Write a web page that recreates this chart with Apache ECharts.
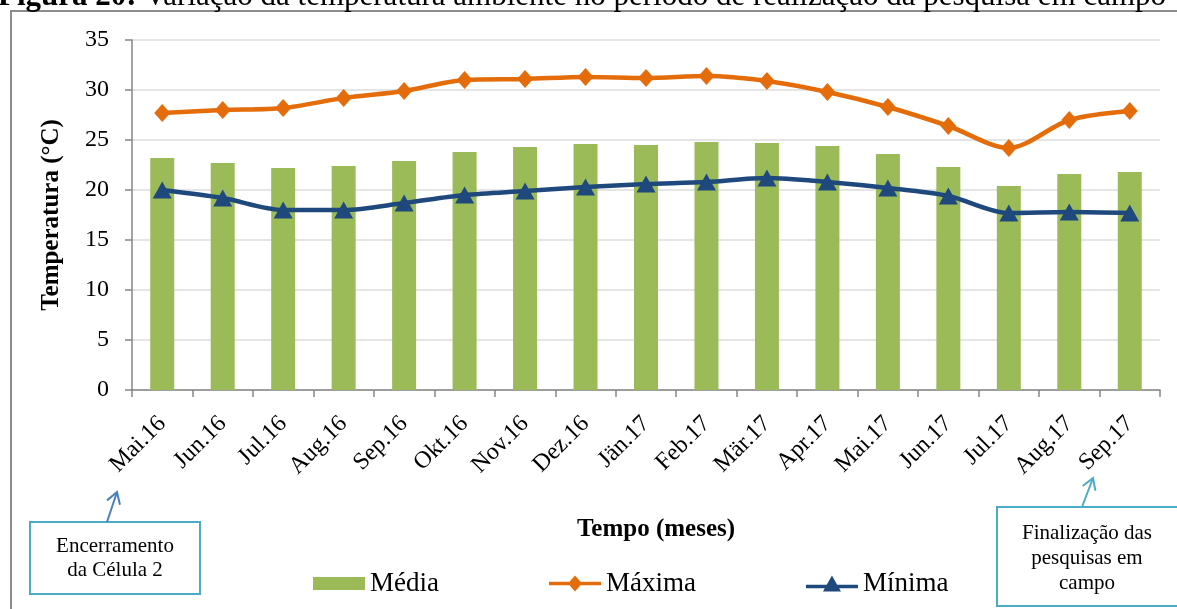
<!DOCTYPE html>
<html>
<head>
<meta charset="utf-8">
<script src="https://cdn.jsdelivr.net/npm/echarts@6/dist/echarts.min.js"></script>
<style>
  html, body { margin: 0; padding: 0; background: #fff; }
  #chart { width: 1177px; height: 609px; }
</style>
</head>
<body>
<div id="chart"></div>
<script>
var meses = ['Mai.16', 'Jun.16', 'Jul.16', 'Aug.16', 'Sep.16', 'Okt.16', 'Nov.16', 'Dez.16', 'Jän.17',
  'Feb.17', 'Mär.17', 'Apr.17', 'Mai.17', 'Jun.17', 'Jul.17', 'Aug.17', 'Sep.17'];
var media = [23.2, 22.7, 22.2, 22.4, 22.9, 23.8, 24.3, 24.6, 24.5, 24.8, 24.7, 24.4, 23.6, 22.3, 20.4, 21.6, 21.8];
var maxima = [27.7, 28.0, 28.2, 29.2, 29.9, 31.0, 31.1, 31.3, 31.2, 31.4, 30.9, 29.8, 28.3, 26.4, 24.2, 27.0, 27.9];
var minima = [20.0, 19.2, 18.0, 18.0, 18.7, 19.5, 19.9, 20.3, 20.6, 20.8, 21.2, 20.8, 20.2, 19.4, 17.7, 17.8, 17.7];
var yTicks = [0, 5, 10, 15, 20, 25, 30, 35];

var serif = '"Liberation Serif", "Times New Roman", serif';

// seta aberta: haste + duas pontas
function seta(x1, y1, x2, y2, cor) {
  var dx = x1 - x2, dy = y1 - y2;
  var len = Math.sqrt(dx * dx + dy * dy);
  var ux = dx / len, uy = dy / len;
  var a = 0.55, h = 13;
  function rot(s) {
    return [x2 + h * (ux * Math.cos(s * a) - uy * Math.sin(s * a)),
            y2 + h * (ux * Math.sin(s * a) + uy * Math.cos(s * a))];
  }
  return [{
    type: 'polyline', silent: true,
    shape: { points: [[x1, y1], [x2, y2]] },
    style: { stroke: cor, lineWidth: 2 }
  }, {
    type: 'polyline', silent: true,
    shape: { points: [rot(1), [x2, y2], rot(-1)] },
    style: { stroke: cor, lineWidth: 2, fill: null }
  }];
}

// ícones da legenda (linha grossa + marcador)
var iconBarra = 'path://M0,1.5 L52,1.5 L52,14.5 L0,14.5 Z';
var iconMax = 'path://M0,6.3 L52,6.3 L52,9.7 L0,9.7 Z M26,0 L33,8 L26,16 L19,8 Z';
var iconMin = 'path://M0,9.3 L52,9.3 L52,12.7 L0,12.7 Z M26,0 L35,16 L17,16 Z';

var myChart = echarts.init(document.getElementById('chart'));

var option = {
  backgroundColor: '#fff',
  animation: false,
  textStyle: { fontFamily: serif },
  grid: { left: 132, right: 17, top: 40, bottom: 219 },
  legend: {
    left: 308,
    top: 565,
    itemWidth: 52,
    itemHeight: 16,
    itemGap: 110,
    textStyle: { fontFamily: serif, fontSize: 27, color: '#000' },
    data: [
      { name: 'Média', icon: iconBarra },
      { name: 'Máxima', icon: iconMax },
      { name: 'Mínima', icon: iconMin }
    ]
  },
  xAxis: {
    type: 'category',
    data: meses,
    boundaryGap: true,
    axisLine: { lineStyle: { color: '#868686', width: 1.5 } },
    axisTick: { show: true, length: 7, lineStyle: { color: '#868686', width: 1.5 } },
    axisLabel: {
      rotate: 45, margin: 30, interval: 0,
      fontFamily: serif, fontSize: 24, color: '#000'
    }
  },
  yAxis: {
    type: 'value',
    min: yTicks[0],
    max: yTicks[yTicks.length - 1],
    interval: 5,
    name: 'Temperatura (°C)',
    nameLocation: 'middle',
    nameGap: 68,
    nameTextStyle: { fontFamily: serif, fontSize: 25, fontWeight: 'bold', color: '#000' },
    axisLine: { show: true, lineStyle: { color: '#868686', width: 1.5 } },
    axisTick: { show: true, length: 7, lineStyle: { color: '#868686', width: 1.5 } },
    axisLabel: { margin: 23, fontFamily: serif, fontSize: 24, color: '#000' },
    splitLine: { lineStyle: { color: '#dcdcdc', width: 1.5 } }
  },
  series: [{
    name: 'Média',
    type: 'bar',
    data: media,
    barWidth: 24,
    itemStyle: { color: '#9BBB59' }
  }, {
    name: 'Máxima',
    type: 'line',
    data: maxima,
    smooth: 0.3,
    symbol: 'diamond',
    symbolSize: [16, 18],
    lineStyle: { color: '#E46C0A', width: 4.5 },
    itemStyle: { color: '#E46C0A' }
  }, {
    name: 'Mínima',
    type: 'line',
    data: minima,
    smooth: 0.3,
    symbol: 'triangle',
    symbolSize: [19, 17],
    lineStyle: { color: '#1F497D', width: 4.5 },
    itemStyle: { color: '#1F497D' }
  }],
  graphic: [
    // moldura do gráfico
    {
      type: 'rect', silent: true, z: -10,
      shape: { x: 11, y: 11, width: 1200, height: 700 },
      style: { fill: null, stroke: '#8c8c8c', lineWidth: 2 }
    },
    // legenda da figura (cortada no topo da imagem)
    {
      type: 'text', silent: true,
      x: -2, y: 12,
      style: {
        text: '{b|Figura 20:} Variação da temperatura ambiente no período de realização da pesquisa em campo',
        verticalAlign: 'bottom',
        font: '31px ' + serif,
        fill: '#000',
        rich: { b: { fontWeight: 'bold', fontSize: 31, fontFamily: serif } }
      }
    },
    // título do eixo x
    {
      type: 'text', silent: true,
      x: 656, y: 530,
      style: {
        text: 'Tempo (meses)', align: 'center', verticalAlign: 'middle',
        font: 'bold 25px ' + serif, fill: '#000'
      }
    },
    // caixa esquerda
    {
      type: 'rect', silent: true,
      shape: { x: 30, y: 522, width: 170, height: 72 },
      style: { fill: '#fff', stroke: '#4BACC6', lineWidth: 2 }
    },
    {
      type: 'text', silent: true,
      x: 115, y: 558,
      style: {
        text: 'Encerramento\nda Célula 2', align: 'center', verticalAlign: 'middle',
        font: '21px ' + serif, lineHeight: 24, fill: '#000'
      }
    },
    // caixa direita
    {
      type: 'rect', silent: true,
      shape: { x: 997, y: 507, width: 200, height: 99 },
      style: { fill: '#fff', stroke: '#4BACC6', lineWidth: 2 }
    },
    {
      type: 'text', silent: true,
      x: 1087, y: 558,
      style: {
        text: 'Finalização das\npesquisas em\ncampo', align: 'center', verticalAlign: 'middle',
        font: '21px ' + serif, lineHeight: 25, fill: '#000'
      }
    }
  ].concat(seta(107, 522, 117, 492, '#4A7EBB'), seta(1082, 507, 1093, 478, '#4BACC6'))
};

myChart.setOption(option);
</script>
</body>
</html>
